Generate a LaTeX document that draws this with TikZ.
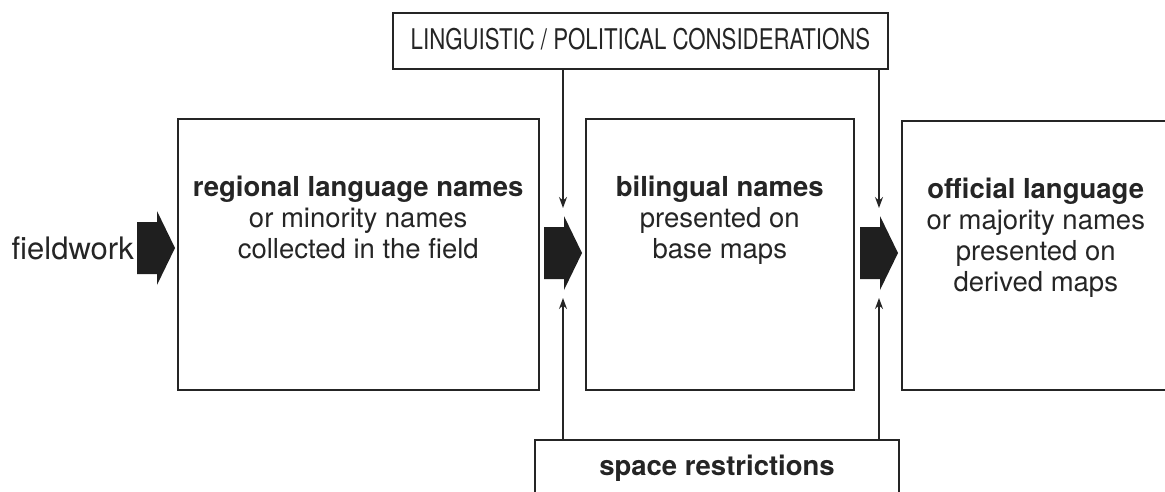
\documentclass[tikz,border=0pt]{standalone}
\usepackage{graphicx}
\usepackage{fontspec}
\setmainfont{TeX Gyre Heros}
\usetikzlibrary{arrows.meta,positioning}
\definecolor{ink}{HTML}{252525}
\tikzset{
    box/.style={draw=ink, line width=1.5pt, inner sep=0pt},
    boxtext/.style={text=ink, align=center, inner sep=0pt, font=\fontsize{27.5}{31}\selectfont},
    pointer/.style={draw=ink, line width=1.3pt, -{Stealth[length=11pt,width=8pt]}},
    fatfill/.style={fill=ink!85!black},
}
\newcommand\fatarrow[1]{\fill[fatfill] (#1) -- ++(-18,-37) -- ++(0,11) -- ++(-20,0) -- ++(0,52) -- ++(20,0) -- ++(0,11) -- cycle;}

\begin{document}
\begin{tikzpicture}[x=1pt, y=-1pt]
    \clip (0,0) rectangle (1165,491);
    \fill [white] (0,0) rectangle (1165,491);

    \node [box, boxtext, minimum width=495pt, text height=20pt, text depth=2pt, inner ysep=17pt, anchor=north] (consid) at (640.5,12)
        {\fontsize{28.5}{32}\selectfont\scalebox{0.78}[1]{LINGUISTIC / POLITICAL CONSIDERATIONS}};
    \node [box, minimum width=361pt, minimum height=271pt, anchor=north west] (regional) at (177,118) {};
    \node [box, minimum width=268pt, minimum height=271pt, anchor=north west] (bilingual) at (585,118) {};
    \node [box, minimum width=268pt, minimum height=269pt, anchor=north west] (official) at (901,120) {};
    \node [box, boxtext, minimum width=364pt, text height=20pt, text depth=30pt, inner ysep=16pt, anchor=north] (space) at (717,439)
        {\textbf{space restrictions}};

    \node [boxtext, below=58pt of regional.north] (regionaltxt)
        {\textbf{regional language names}\\or minority names\\collected in the field};
    \node [boxtext, below=58pt of bilingual.north] (bilingualtxt)
        {\textbf{bilingual names}\\presented on\\base maps};
    \node [boxtext, below=58pt of official.north] (officialtxt)
        {\textbf{official language}\\or majority names\\presented on\\derived maps};
    \node [boxtext, font=\fontsize{31}{34}\selectfont, anchor=base east] (field) at (134,259) {fieldwork};

    \coordinate (tip0) at (175,248);
    \coordinate (tip1) at (582,253);
    \coordinate (tip2) at (898,253);
    \fatarrow{tip0}
    \fatarrow{tip1}
    \fatarrow{tip2}

    \coordinate (down1) at (563,208);
    \coordinate (down2) at (879,208);
    \coordinate (up1) at (563,298);
    \coordinate (up2) at (879,298);
    \draw [pointer] (consid.south -| down1) -- (down1);
    \draw [pointer] (consid.south -| down2) -- (down2);
    \draw [pointer] (space.north -| up1) -- (up1);
    \draw [pointer] (space.north -| up2) -- (up2);
\end{tikzpicture}
\end{document}
